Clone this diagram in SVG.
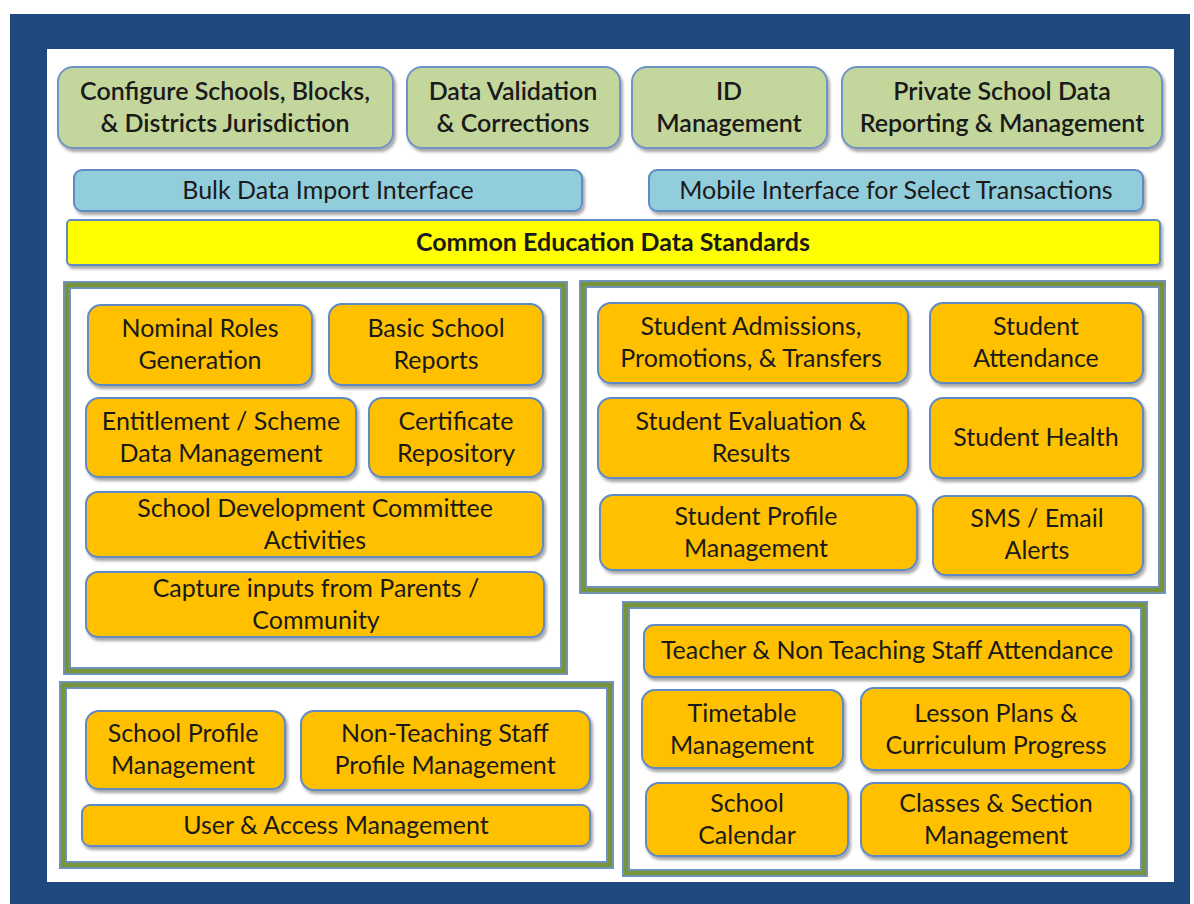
<svg xmlns="http://www.w3.org/2000/svg" width="1194" height="904" viewBox="0 0 1194 904">
<defs>
<filter id="sh" x="-10%" y="-10%" width="130%" height="140%">
<feDropShadow dx="2" dy="3" stdDeviation="1.8" flood-color="#000" flood-opacity="0.35"/>
</filter>
<style>
.g{fill:#c3d69b;stroke:#6f93c6;stroke-width:2;filter:url(#sh)}
.b{fill:#92cddc;stroke:#5f8ac4;stroke-width:2;filter:url(#sh)}
.y{fill:#ffff00;stroke:#5f8ac4;stroke-width:2;filter:url(#sh)}
.o{fill:#ffc000;stroke:#5f8ac4;stroke-width:2;filter:url(#sh)}
.fo{fill:none;stroke:#6f93c6;stroke-width:8}
.fi{fill:none;stroke:#77933c;stroke-width:4.5}
.t{font-family:Lato,"Liberation Sans",sans-serif;font-size:25px;fill:#1a1a1a;text-anchor:middle}
.sb{font-weight:600}
.bt{font-weight:bold}
</style>
</defs>
<rect x="0" y="0" width="1194" height="904" fill="#ffffff"/>
<rect x="10" y="14" width="1180" height="890" fill="#1f497d"/>
<rect x="47" y="49" width="1127" height="833" fill="#ffffff"/>

<g id="configure"><rect class="g" x="58" y="67" width="335" height="81" rx="15"/><text class="t sb" x="225" y="100">Configure Schools, Blocks,<tspan x="225" dy="32">&amp; Districts Jurisdiction</tspan></text></g>
<g id="validation"><rect class="g" x="407" y="67" width="213" height="81" rx="15"/><text class="t sb" x="513" y="100">Data Validation<tspan x="513" dy="32">&amp; Corrections</tspan></text></g>
<g id="idmgmt"><rect class="g" x="632" y="67" width="195" height="81" rx="15"/><text class="t sb" x="729" y="100">ID<tspan x="729" dy="32">Management</tspan></text></g>
<g id="private"><rect class="g" x="842" y="67" width="320" height="81" rx="15"/><text class="t sb" x="1002" y="100">Private School Data<tspan x="1002" dy="32">Reporting &amp; Management</tspan></text></g>

<g id="bulk"><rect class="b" x="74" y="170" width="508" height="41" rx="8"/><text class="t" x="328" y="199">Bulk Data Import Interface</text></g>
<g id="mobile"><rect class="b" x="649" y="170" width="494" height="41" rx="8"/><text class="t" x="896" y="199">Mobile Interface for Select Transactions</text></g>
<g id="ceds"><rect class="y" x="67" y="220" width="1093" height="45" rx="4"/><text class="t bt" x="613" y="251">Common Education Data Standards</text></g>

<g id="group-school-reports">
<rect class="fo" x="67" y="285" width="497" height="386"/><rect class="fi" x="67" y="285" width="497" height="386"/>
</g>
<g id="group-student">
<rect class="fo" x="583" y="284" width="579" height="306"/><rect class="fi" x="583" y="284" width="579" height="306"/>
</g>
<g id="group-profile">
<rect class="fo" x="63" y="685" width="547" height="180"/><rect class="fi" x="63" y="685" width="547" height="180"/>
</g>
<g id="group-teacher">
<rect class="fo" x="626" y="605" width="518" height="268"/><rect class="fi" x="626" y="605" width="518" height="268"/>
</g>

<g id="nominal"><rect class="o" x="88" y="305" width="224" height="80" rx="13"/><text class="t" x="200" y="337">Nominal Roles<tspan x="200" dy="32">Generation</tspan></text></g>
<g id="basic"><rect class="o" x="329" y="304" width="214" height="81" rx="13"/><text class="t" x="436" y="337">Basic School<tspan x="436" dy="32">Reports</tspan></text></g>
<g id="entitlement"><rect class="o" x="86" y="398" width="270" height="79" rx="13"/><text class="t" x="221" y="430">Entitlement / Scheme<tspan x="221" dy="32">Data Management</tspan></text></g>
<g id="certificate"><rect class="o" x="369" y="398" width="174" height="79" rx="13"/><text class="t" x="456" y="430">Certificate<tspan x="456" dy="32">Repository</tspan></text></g>
<g id="sdc"><rect class="o" x="86" y="492" width="457" height="65" rx="12"/><text class="t" x="315" y="517">School Development Committee<tspan x="315" dy="32">Activities</tspan></text></g>
<g id="capture"><rect class="o" x="86" y="572" width="458" height="65" rx="12"/><text class="t" x="316" y="597">Capture inputs from Parents /<tspan x="316" dy="32">Community</tspan></text></g>

<g id="admissions"><rect class="o" x="598" y="303" width="310" height="80" rx="13"/><text class="t" x="751" y="335">Student Admissions,<tspan x="751" dy="32">Promotions, &amp; Transfers</tspan></text></g>
<g id="attendance"><rect class="o" x="930" y="303" width="213" height="80" rx="13"/><text class="t" x="1036" y="335">Student<tspan x="1036" dy="32">Attendance</tspan></text></g>
<g id="evaluation"><rect class="o" x="598" y="398" width="310" height="80" rx="13"/><text class="t" x="751" y="430">Student Evaluation &amp;<tspan x="751" dy="32">Results</tspan></text></g>
<g id="health"><rect class="o" x="930" y="398" width="213" height="80" rx="13"/><text class="t" x="1036" y="446">Student Health</text></g>
<g id="studentprofile"><rect class="o" x="600" y="495" width="317" height="75" rx="13"/><text class="t" x="756" y="525">Student Profile<tspan x="756" dy="32">Management</tspan></text></g>
<g id="sms"><rect class="o" x="933" y="496" width="210" height="79" rx="13"/><text class="t" x="1037" y="527">SMS / Email<tspan x="1037" dy="32">Alerts</tspan></text></g>

<g id="schoolprofile"><rect class="o" x="86" y="711" width="199" height="78" rx="13"/><text class="t" x="183" y="742">School Profile<tspan x="183" dy="32">Management</tspan></text></g>
<g id="nonteaching"><rect class="o" x="301" y="711" width="289" height="79" rx="13"/><text class="t" x="445" y="742">Non-Teaching Staff<tspan x="445" dy="32">Profile Management</tspan></text></g>
<g id="useraccess"><rect class="o" x="82" y="805" width="508" height="41" rx="8"/><text class="t" x="336" y="834">User &amp; Access Management</text></g>

<g id="staffattendance"><rect class="o" x="644" y="625" width="487" height="52" rx="10"/><text class="t" x="887" y="659">Teacher &amp; Non Teaching Staff Attendance</text></g>
<g id="timetable"><rect class="o" x="642" y="690" width="201" height="78" rx="13"/><text class="t" x="742" y="722">Timetable<tspan x="742" dy="32">Management</tspan></text></g>
<g id="lesson"><rect class="o" x="861" y="688" width="270" height="82" rx="13"/><text class="t" x="996" y="722">Lesson Plans &amp;<tspan x="996" dy="32">Curriculum Progress</tspan></text></g>
<g id="calendar"><rect class="o" x="646" y="783" width="202" height="73" rx="13"/><text class="t" x="747" y="812">School<tspan x="747" dy="32">Calendar</tspan></text></g>
<g id="classes"><rect class="o" x="861" y="783" width="270" height="73" rx="13"/><text class="t" x="996" y="812">Classes &amp; Section<tspan x="996" dy="32">Management</tspan></text></g>

<g id="connectors"></g>
</svg>
